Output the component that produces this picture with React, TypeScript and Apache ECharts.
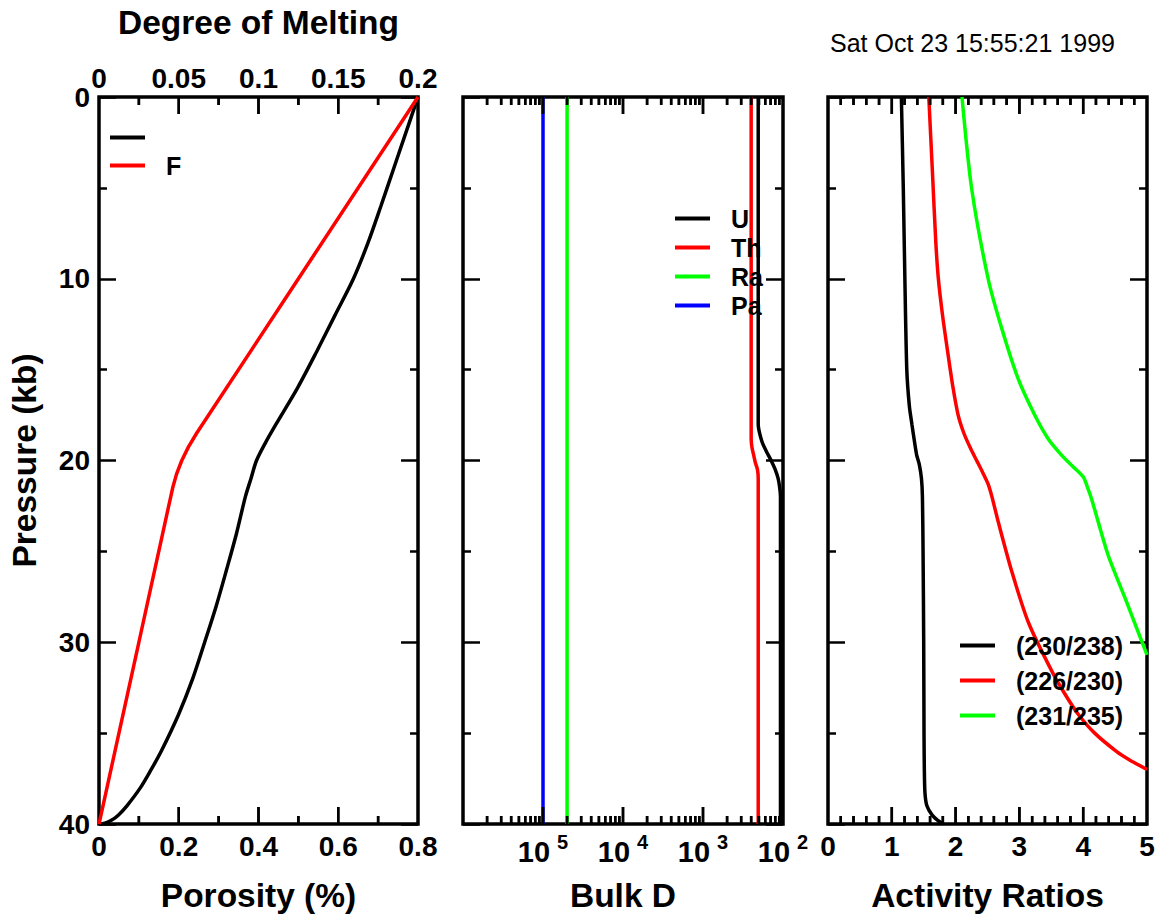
import React, { useEffect, useRef } from "react";
import * as echarts from "echarts";

const FONT = "'Liberation Sans', Arial, Helvetica, sans-serif";
const NB = "\u00a0";

// ---------- Panel 1: porosity and degree of melting ----------
const porosityP = [0, 2, 4, 6, 8, 10, 12, 14, 16, 18, 19, 20, 21, 22, 24, 26, 28, 30, 32, 34, 36, 37, 38, 39, 39.5, 39.8, 39.95, 40];
const porosityVal = [0.8, 0.769, 0.738, 0.707, 0.675, 0.638, 0.592, 0.546, 0.498, 0.444, 0.418, 0.395, 0.381, 0.367, 0.345, 0.32, 0.294, 0.265, 0.235, 0.199, 0.156, 0.131, 0.104, 0.07, 0.049, 0.031, 0.015, 0];

const meltP = [0, 10, 18.5, 19.25, 20, 20.75, 21.5, 30, 40];
const meltF = [0.2, 0.125, 0.0612, 0.0561, 0.0519, 0.0486, 0.0462, 0.025, 0];

// ---------- Panel 2: bulk partition coefficients ----------
const uP = [0, 18, 18.5, 19, 19.5, 20, 20.5, 21, 21.5, 22, 40];
const uD = [0.0049, 0.0049, 0.0051, 0.0055, 0.0062, 0.0071, 0.008, 0.0087, 0.0091, 0.0093, 0.0093];
const thP = [0, 18.8, 19.3, 19.7, 20.1, 20.5, 21, 40];
const thD = [0.004, 0.004, 0.0041, 0.0043, 0.0045, 0.0048, 0.0049, 0.0049];
const constP = [0, 40];
const raD = [2e-5, 2e-5];
const paD = [1e-5, 1e-5];

// ---------- Panel 3: activity ratios ----------
const r230P = [0, 5, 10, 15, 17, 18, 19, 19.7, 20.2, 21, 22, 25, 30, 35, 37, 38.3, 39, 39.5, 39.8, 40];
const r230 = [1.15, 1.18, 1.205, 1.235, 1.275, 1.315, 1.357, 1.39, 1.43, 1.465, 1.48, 1.49, 1.5, 1.505, 1.51, 1.52, 1.55, 1.63, 1.72, 1.81];
const r226P = [0, 4, 8, 10, 12, 14, 16, 17.5, 18.5, 19.3, 20, 20.7, 21.3, 22, 23.4, 26.1, 28.9, 31.6, 33, 34, 35, 36, 36.5, 37];
const r226 = [1.58, 1.635, 1.69, 1.73, 1.795, 1.875, 1.96, 2.04, 2.13, 2.23, 2.33, 2.43, 2.51, 2.57, 2.67, 2.88, 3.14, 3.51, 3.74, 3.93, 4.18, 4.52, 4.74, 5.0];
const r231P = [0, 5, 10, 12.7, 15.5, 17.5, 18.8, 19.7, 20.3, 20.9, 21.5, 22.1, 25.2, 27.6, 30.7];
const r231 = [2.1, 2.25, 2.51, 2.72, 2.98, 3.24, 3.45, 3.66, 3.83, 4.0, 4.07, 4.13, 4.39, 4.66, 5.0];

// ---------- Horizontal-axis tick marks (top and bottom, pointing inward) ----------
const porosityMajor = [0.2, 0.4, 0.6];
const porosityMinor = [0.1, 0.3, 0.5, 0.7];
const logMajor = [1e-5, 1e-4, 1e-3];
const logDecades = [1e-6, 1e-5, 1e-4, 1e-3];
const logMinorSteps = [2, 3, 4, 5, 6, 7, 8, 9];
const ratioMajor = [1, 2, 3, 4];
const ratioUnits = [0, 1, 2, 3, 4];
const ratioMinorSteps = [0.2, 0.4, 0.6, 0.8];

const pairs = (xs: number[], ys: number[]) => xs.map((x, i) => [x, ys[i]]);

const LABEL = () => ({ color: "#000", fontSize: 28, fontWeight: "bold", fontFamily: FONT });
const NAME = () => ({ color: "#000", fontSize: 33.5, fontWeight: "bold", fontFamily: FONT });
const LW = 3.5;
const MAJOR_LEN = 17;
const MINOR_LEN = 8;
const TICK_W = 2.5;
const YTICK = () => ({ show: true, inside: true, length: MAJOR_LEN, lineStyle: { color: "#000", width: TICK_W } });
const YMINOR = () => ({ show: true, splitNumber: 2, length: MINOR_LEN, lineStyle: { color: "#000", width: TICK_W } });
const AXLINE = () => ({ show: false, onZero: false });

const GRIDS = [
  { left: 99, top: 97, width: 319, height: 727 },
  { left: 463, top: 97, width: 320, height: 727 },
  { left: 828, top: 97, width: 319, height: 727 },
];
const P_MAX = 40;
const kbPerPx = P_MAX / GRIDS[0].height;

function line(name: string, color: string, xi: number, yi: number, data: number[][], smooth: number | boolean = 0.3) {
  return {
    name,
    type: "line",
    xAxisIndex: xi,
    yAxisIndex: yi,
    data,
    color,
    smooth,
    symbol: "none",
    showSymbol: false,
    lineStyle: { color, width: LW },
    silent: true,
  };
}

// tick marks as short line-series segments, so they go through the panel's own scales
function tickLines(xi: number, yi: number, major: number[], minor: number[]) {
  const data: any[] = [];
  const add = (v: number, lenPx: number) => {
    const d = lenPx * kbPerPx;
    data.push([v, 0], [v, d], "-", [v, P_MAX], [v, P_MAX - d], "-");
  };
  major.forEach((v) => add(v, MAJOR_LEN));
  minor.forEach((v) => add(v, MINOR_LEN));
  return {
    type: "line",
    xAxisIndex: xi,
    yAxisIndex: yi,
    data,
    connectNulls: false,
    symbol: "none",
    showSymbol: false,
    clip: false,
    silent: true,
    z: 6,
    color: "#000",
    lineStyle: { color: "#000", width: TICK_W, cap: "butt" },
  };
}

export default function App() {
  const ref = useRef<HTMLDivElement>(null);
  useEffect(() => {
    if (!ref.current) return;
    const chart = echarts.init(ref.current, null, { renderer: "svg" });
    const grids = GRIDS.map((g) => ({ ...g, show: true, borderColor: "#000", borderWidth: 3.5, backgroundColor: "transparent", containLabel: false, outerBoundsMode: "none" }));

    const valueX = (grid: number, pos: string, min: number, max: number, interval: number, labels: boolean, name?: string, gap?: number) => ({
      type: "value",
      gridIndex: grid,
      position: pos,
      min,
      max,
      interval,
      axisLine: AXLINE(),
      axisTick: { show: false },
      minorTick: { show: false },
      splitLine: { show: false },
      axisLabel: { show: labels, margin: pos === "top" ? 5 : 8, ...LABEL() },
      name,
      nameLocation: "middle",
      nameGap: gap,
      nameTextStyle: NAME(),
      nameMoveOverlap: false,
    });

    const logX = (pos: string, labels: boolean, name?: string) => ({
      type: "log",
      logBase: 10,
      gridIndex: 1,
      position: pos,
      min: 1e-6,
      max: 1e-2,
      axisLine: AXLINE(),
      axisTick: { show: false },
      minorTick: { show: false },
      splitLine: { show: false },
      axisLabel: {
        show: labels,
        margin: 8,
        formatter: (v: number) => {
          if (v < 5e-6) return "";
          const e = Math.round(-Math.log10(v));
          return `{b|10}{s|${e}}`;
        },
        rich: {
          b: { fontSize: 29, fontWeight: "bold", fontFamily: FONT, color: "#000", lineHeight: 34, verticalAlign: "bottom" },
          s: { fontSize: 20, fontWeight: "bold", fontFamily: FONT, color: "#000", lineHeight: 20, verticalAlign: "top", padding: [0, 0, 0, 7] },
        },
      },
      name,
      nameLocation: "middle",
      nameGap: 54,
      nameTextStyle: NAME(),
      nameMoveOverlap: false,
    });

    const pressureY = (grid: number, pos: string, labels: boolean, name?: string) => ({
      type: "value",
      gridIndex: grid,
      position: pos,
      inverse: true,
      min: 0,
      max: P_MAX,
      interval: 10,
      axisLine: AXLINE(),
      axisTick: YTICK(),
      minorTick: YMINOR(),
      splitLine: { show: false },
      axisLabel: { show: labels, margin: 9, ...LABEL() },
      name,
      nameLocation: "middle",
      nameRotate: 90,
      nameGap: 58,
      nameTextStyle: NAME(),
      nameMoveOverlap: false,
    });

    const legendBase = (data: string[], left: number, top: number, lineHeight: number, gap: number) => ({
      data,
      left,
      top,
      orient: "vertical",
      icon: "rect",
      itemWidth: 35,
      itemHeight: 4,
      itemGap: gap,
      padding: 0,
      selectedMode: false,
      textStyle: { color: "#000", fontSize: 25, fontWeight: "bold", fontFamily: FONT, lineHeight, padding: [0, 0, 0, 16] },
    });

    const logMinor = logDecades.flatMap((d) => logMinorSteps.map((m) => m * d));
    const ratioMinor = ratioUnits.flatMap((u) => ratioMinorSteps.map((s) => u + s));

    // same ticks also as plain graphic lines (linear / log placement inside each frame)
    const panels = [
      { grid: GRIDS[0], major: porosityMajor, minor: porosityMinor, lin: [0, 0.8], log: false },
      { grid: GRIDS[1], major: logMajor, minor: logMinor, lin: [-6, -2], log: true },
      { grid: GRIDS[2], major: ratioMajor, minor: ratioMinor, lin: [0, 5], log: false },
    ];
    const ticks: any[] = [];
    panels.forEach((pn) => {
      const top = pn.grid.top;
      const bot = pn.grid.top + pn.grid.height;
      const add = (v: number, len: number) => {
        const t = pn.log ? Math.log10(v) : v;
        const x = pn.grid.left + ((t - pn.lin[0]) / (pn.lin[1] - pn.lin[0])) * pn.grid.width;
        ticks.push({ type: "line", z: 100, silent: true, shape: { x1: x, y1: top, x2: x, y2: top + len }, style: { stroke: "#000", lineWidth: TICK_W } });
        ticks.push({ type: "line", z: 100, silent: true, shape: { x1: x, y1: bot, x2: x, y2: bot - len }, style: { stroke: "#000", lineWidth: TICK_W } });
      };
      pn.major.forEach((v) => add(v, MAJOR_LEN));
      pn.minor.forEach((v) => add(v, MINOR_LEN));
    });

    chart.setOption({
      animation: false,
      backgroundColor: "#fff",
      grid: grids,
      xAxis: [
        valueX(0, "bottom", 0, 0.8, 0.2, true, "Porosity (%)", 54),
        valueX(0, "top", 0, 0.2, 0.05, true, "Degree of Melting", 58),
        logX("bottom", true, "Bulk D"),
        logX("top", false),
        valueX(2, "bottom", 0, 5, 1, true, "Activity Ratios", 54),
        valueX(2, "top", 0, 5, 1, false),
      ],
      yAxis: [
        pressureY(0, "left", true, "Pressure (kb)"),
        pressureY(0, "right", false),
        pressureY(1, "left", false),
        pressureY(1, "right", false),
        pressureY(2, "left", false),
        pressureY(2, "right", false),
      ],
      legend: [
        legendBase([NB, "F"], 110, 125, 22, 3),
        legendBase(["U", "Th", "Ra", "Pa"], 675, 206, 24, 4),
        legendBase(["(230/238)", "(226/230)", "(231/235)"], 960, 633, 24, 10),
      ],
      graphic: [
        {
          type: "text",
          left: 830,
          top: 30,
          style: { text: "Sat Oct 23 15:55:21 1999", fontSize: 25, fontFamily: FONT, fill: "#000" },
        },
        ...ticks,
      ],
      series: [
        line(NB, "#000000", 0, 0, pairs(porosityVal, porosityP)),
        line("F", "#ff0000", 1, 0, pairs(meltF, meltP), false),
        line("U", "#000000", 2, 2, pairs(uD, uP)),
        line("Th", "#ff0000", 2, 2, pairs(thD, thP)),
        line("Ra", "#00ff00", 2, 2, pairs(raD, constP), false),
        line("Pa", "#0000ff", 2, 2, pairs(paD, constP), false),
        line("(230/238)", "#000000", 4, 4, pairs(r230, r230P), 0.25),
        line("(226/230)", "#ff0000", 4, 4, pairs(r226, r226P), 0.25),
        line("(231/235)", "#00ff00", 4, 4, pairs(r231, r231P), 0.25),
        tickLines(0, 0, porosityMajor, porosityMinor),
        tickLines(2, 2, logMajor, logMinor),
        tickLines(4, 4, ratioMajor, ratioMinor),
      ],
    } as any);
    return () => chart.dispose();
  }, []);
  return <div ref={ref} style={{ position: "absolute", left: 0, top: 0, width: 1159, height: 916 }} />;
}
